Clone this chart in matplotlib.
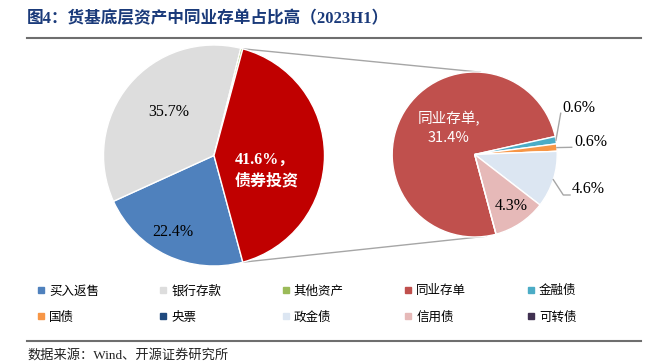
import numpy as np
import matplotlib
matplotlib.use("Agg")
import matplotlib.pyplot as plt
from matplotlib.lines import Line2D

plt.rcParams['font.family'] = ['Noto Sans CJK SC', 'DejaVu Sans']

# left pie: asset structure (%)
left_labels = ['买入返售', '银行存款', '其他资产', '债券投资']
left_values = [22.4, 35.7, 0.3, 41.6]
left_colors = ['#4F81BD', '#DDDDDD', '#9BBB59', '#C00000']

# right pie: breakdown of bond investment (%)
right_labels = ['同业存单', '金融债', '国债', '央票', '政金债', '信用债', '可转债']
right_values = [31.4, 0.6, 0.6, 0.0, 4.6, 4.3, 0.0]
right_colors = ['#C0504D', '#4BACC6', '#F79646', '#1F497D', '#DCE6F2', '#E6B9B8', '#403151']

legend_order = ['买入返售', '银行存款', '其他资产', '同业存单', '金融债',
                '国债', '央票', '政金债', '信用债', '可转债']

W, H = 649, 363
serif_cjk = ['Liberation Serif', 'Noto Sans CJK SC']


def Y(py):
    # pixel row (from top) -> data y
    return H - py


fig = plt.figure(figsize=(W / 100, H / 100), dpi=100)
ax = fig.add_axes([0, 0, 1, 1])

# left pie
lc, lr = (214, Y(155.5)), 110.5
lw, _ = ax.pie(left_values, colors=left_colors, center=lc, radius=lr,
               startangle=-left_values[-1] / 100 * 360 / 2, counterclock=False,
               wedgeprops=dict(edgecolor='white', linewidth=1))

# right pie
rc, rr = (474.7, Y(154.5)), 82.5
rw, _ = ax.pie(right_values, colors=right_colors, center=rc, radius=rr,
               startangle=-75, counterclock=False,
               wedgeprops=dict(edgecolor='white', linewidth=1))

ax.set_xlim(0, W)
ax.set_ylim(0, H)
ax.set_aspect('equal')
ax.axis('off')


def edge_point(c, r, ang):
    a = np.deg2rad(ang)
    return c[0] + r * np.cos(a), c[1] + r * np.sin(a)


# connector lines from bond wedge to the second pie
bond = lw[-1]
p_top = edge_point(lc, lr, bond.theta2)
p_bot = edge_point(lc, lr, bond.theta1)
q_top = edge_point(rc, rr, 86)
q_bot = edge_point(rc, rr, -82)
for p, q in [(p_top, q_top), (p_bot, q_bot)]:
    ax.plot([p[0], q[0]], [p[1], q[1]], color='#A6A6A6', lw=1, zorder=0)

# left pie labels
ax.text(168.3, Y(111.7), '35.7%', ha='center', va='center', fontsize=11.5,
        family=serif_cjk, color='black')
ax.text(173.3, Y(232.5), '22.4%', ha='center', va='center', fontsize=11.5,
        family=serif_cjk, color='black')
ax.text(235, Y(170.5), '41.6%，\n债券投资', ha='left', va='center', fontsize=11.5,
        family=serif_cjk, color='white', fontweight='bold', linespacing=1.45)

# right pie labels
ax.text(449, Y(128), '同业存单,\n31.4%', ha='center', va='center', fontsize=10.5,
        color='white', linespacing=1.5)
ax.text(511.7, Y(206), '4.3%', ha='center', va='center', fontsize=11.5,
        family=serif_cjk, color='black')


def mid_angle(w):
    return (w.theta1 + w.theta2) / 2


# external labels with leader lines: (wedge index, knee point, end point, text pos)
ext = [
    (1, (560.7, 113.3), None, (562.5, 107.5)),
    (2, None, (571.7, 147.3), (574.5, 142.5)),
    (4, (563.3, 195), (570, 195), (572, 189)),
]
for idx, knee, end, tpos in ext:
    w = rw[idx]
    sx, sy = edge_point(rc, rr, mid_angle(w))
    xs, ys = [sx], [sy]
    for pt in (knee, end):
        if pt is not None:
            xs.append(pt[0])
            ys.append(Y(pt[1]))
    ax.plot(xs, ys, color='#A6A6A6', lw=1)
    val = right_values[idx]
    ax.text(tpos[0], Y(tpos[1]), f'{val:.1f}%', ha='left', va='center',
            fontsize=11.5, family=serif_cjk, color='black')

# title and rules
fig.text(27 / W, 1 - 19 / H, '图4：货基底层资产中同业存单占比高（2023H1）',
         ha='left', va='center', fontsize=12, fontweight='bold',
         color='#1A3A7A', family=serif_cjk)
fig.add_artist(Line2D([27 / W, 641 / W], [1 - 37.7 / H] * 2,
                      transform=fig.transFigure, color='#6E6E6E', lw=1.5))
fig.add_artist(Line2D([27 / W, 641 / W], [1 - 340.7 / H] * 2,
                      transform=fig.transFigure, color='#6E6E6E', lw=1.5))
fig.text(27 / W, 1 - 355 / H, '数据来源：Wind、开源证券研究所', ha='left', va='center',
         fontsize=9.5, family=serif_cjk, color='#222222')

# legend (5 columns x 2 rows, row-major order)
color_map = dict(zip(left_labels, left_colors))
color_map.update(dict(zip(right_labels, right_colors)))
handles = [Line2D([], [], marker='s', linestyle='none', markersize=4.5,
                  color=color_map[name], label=name) for name in legend_order]
ncol = 5
nrow = 2
col_major = [handles[r * ncol + c] for c in range(ncol) for r in range(nrow)]
fig.legend(handles=col_major, loc='center left',
           bbox_to_anchor=(37.6 / W, 1 - 304 / H), ncol=ncol, frameon=False,
           fontsize=9, handlelength=0.5, handletextpad=0.4, columnspacing=4.9,
           labelspacing=1.05, borderpad=0, borderaxespad=0)

fig.savefig('out.png', dpi=100)
